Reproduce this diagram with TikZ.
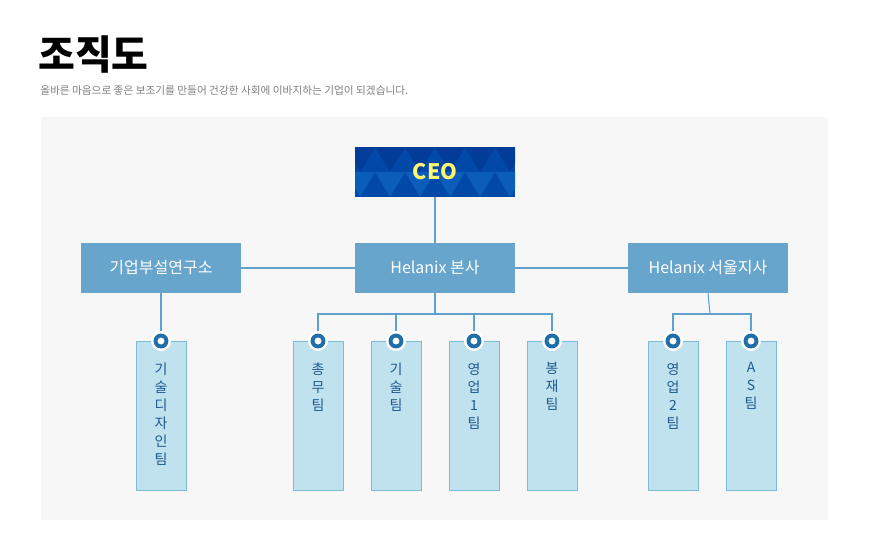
\documentclass[tikz,border=0pt]{standalone}
\usepackage{fontspec}
\setmainfont{Noto Sans CJK KR}
\definecolor{panel}{HTML}{F7F7F7}
\definecolor{mid}{HTML}{68A5CD}
\definecolor{ceo}{HTML}{0049A8}
\definecolor{ceoL}{HTML}{0A5DB8}
\definecolor{ceoD}{HTML}{003C98}
\definecolor{ln}{HTML}{5DA1CC}
\definecolor{tagf}{HTML}{C0E2EE}
\definecolor{tagd}{HTML}{7DBCD8}
\definecolor{ttxt}{HTML}{1E5A8E}
\definecolor{dot}{HTML}{1F6EA8}
\begin{document}
\begin{tikzpicture}[x=0.75pt,y=-0.75pt,
 midbox/.style={fill=mid,minimum width=120pt,minimum height=37.5pt,inner sep=0,text=white,font=\fontsize{12}{14}\selectfont},
 tag/.style={fill=tagf,draw=tagd,line width=0.6pt,minimum width=37.5pt,minimum height=111.75pt,inner sep=0,anchor=north},
 conn/.style={draw=ln,line width=0.8pt},
 ttext/.style={text=ttxt,font=\fontsize{10.5}{13.5}\selectfont,align=center,anchor=north}]
\useasboundingbox (0,0) rectangle (870,550);
\fill[white] (0,0) rectangle (870,550);
\node[anchor=west,inner sep=0,font=\bfseries\fontsize{30}{32}\selectfont] (title) at (38,55) {조직도};
\node[anchor=west,inner sep=0,text=gray,font=\fontsize{8}{10}\selectfont] (sub) at (40,91) {올바른 마음으로 좋은 보조기를 만들어 건강한 사회에 이바지하는 기업이 되겠습니다.};
\fill[panel] (41,117) rectangle (828,520);
% CEO
\begin{scope}
\clip (355,147) rectangle (515,197);
\fill[ceo] (355,147) rectangle (515,197);
\foreach \i in {0,...,6}{
 \fill[ceoL] ({345+\i*30},172) -- ({360+\i*30},197) -- ({375+\i*30},172) -- cycle;
 \fill[ceoD] ({360+\i*30},172) -- ({375+\i*30},147) -- ({345+\i*30},147) -- cycle;
}
\end{scope}
\node[minimum width=120pt,minimum height=37.5pt,inner sep=0,text={rgb,255:red,255;green,245;blue,110},font=\bfseries\fontsize{16}{18}\selectfont] (ceo) at (435,172) {CEO};
\node[midbox] (hq) at (435,268) {Helanix 본사};
\node[midbox] (lab) at (161,268) {기업부설연구소};
\node[midbox] (seoul) at (708,268) {Helanix 서울지사};
\draw[conn] (ceo.south) -- (hq.north);
\draw[conn] (lab.east) -- (hq.west);
\draw[conn] (hq.east) -- (seoul.west);
% tags
\foreach \n/\x/\t in {t1/161/{기\\술\\디\\자\\인\\팀},t2/318/{총\\무\\팀},t3/396/{기\\술\\팀},t4/474/{영\\업\\1\\팀},t5/552/{봉\\재\\팀},t6/673/{영\\업\\2\\팀},t7/751/{A\\S\\팀}}{
 \node[tag] (\n) at (\x,341) {};
 \node[ttext] (\n txt) at (\x,358) {\t};
}
\coordinate (hqb) at (435,314);
\coordinate (sb) at (710,314);
\draw[conn] (hq.south) -- (hqb);
\draw[conn] (t2.north) |- (hqb) -| (t5.north);
\draw[conn] (t3.north) -- (t3.north |- hqb);
\draw[conn] (t4.north) -- (t4.north |- hqb);
\draw[conn] (lab.south) -- (t1.north);
\draw[conn] (seoul.south) -- (sb);
\draw[conn] (t6.north) |- (sb) -| (t7.north);
\foreach \n in {t1,t2,t3,t4,t5,t6,t7}{
 \fill[white] (\n.north) circle (7.5pt);
 \fill[dot] (\n.north) circle (5.6pt);
 \fill[white] (\n.north) circle (2.6pt);
}
\end{tikzpicture}
\end{document}
